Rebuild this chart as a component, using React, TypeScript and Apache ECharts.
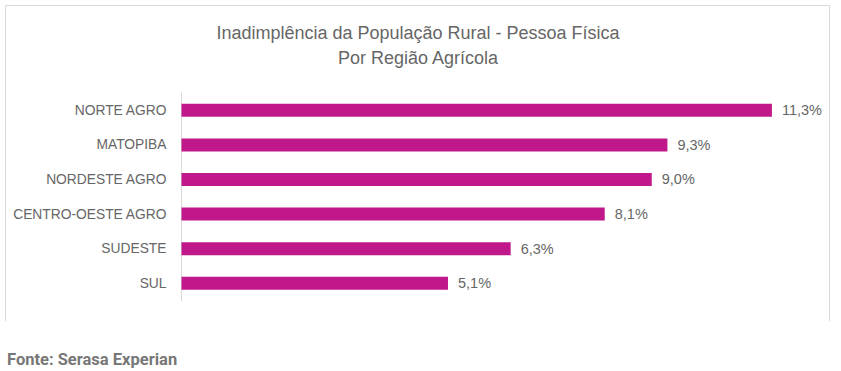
import React, { useEffect, useRef } from "react";
import * as echarts from "echarts";

const categories = ["NORTE AGRO", "MATOPIBA", "NORDESTE AGRO", "CENTRO-OESTE AGRO", "SUDESTE", "SUL"];
const values = [11.3, 9.3, 9.0, 8.1, 6.3, 5.1];
const titleLines = ["Inadimplência da População Rural - Pessoa Física", "Por Região Agrícola"];
const sourceText = "Fonte: Serasa Experian";

export default function App() {
  const ref = useRef<HTMLDivElement>(null);
  useEffect(() => {
    if (!ref.current) return;
    const chart = echarts.init(ref.current, undefined, { renderer: "svg" });
    const border = "#d9d9d9";
    chart.setOption({
      animation: false,
      backgroundColor: "#ffffff",
      grid: { left: 181.5, top: 93, width: 627, height: 207.5, containLabel: false },
      xAxis: {
        type: "value",
        min: 0,
        max: 12,
        show: false,
      },
      yAxis: {
        type: "category",
        data: categories,
        inverse: true,
        axisLine: { show: true, lineStyle: { color: border, width: 1 } },
        axisTick: { show: false },
        splitLine: { show: false },
        axisLabel: {
          margin: 15,
          color: "#666666",
          fontFamily: "Liberation Sans",
          fontSize: 13.8,
        },
      },
      series: [
        {
          type: "bar",
          data: values,
          barWidth: 13,
          itemStyle: { color: "#c0188a" },
          label: {
            show: true,
            position: "right",
            distance: 10,
            color: "#666666",
            fontFamily: "Liberation Sans",
            fontSize: 14.5,
            formatter: (p: any) => p.value.toFixed(1).replace(".", ",") + "%",
          },
        },
      ],
      graphic: [
        { type: "line", shape: { x1: 5.5, y1: 5.5, x2: 829.5, y2: 5.5 }, style: { stroke: border, lineWidth: 1 } },
        { type: "line", shape: { x1: 5.5, y1: 5.5, x2: 5.5, y2: 321 }, style: { stroke: border, lineWidth: 1 } },
        { type: "line", shape: { x1: 829.5, y1: 5.5, x2: 829.5, y2: 321 }, style: { stroke: border, lineWidth: 1 } },
        {
          type: "text",
          x: 418,
          y: 33,
          style: {
            text: titleLines[0],
            fill: "#666666",
            font: "18px 'Liberation Sans'",
            textAlign: "center",
            textVerticalAlign: "middle",
          },
        },
        {
          type: "text",
          x: 418,
          y: 58,
          style: {
            text: titleLines[1],
            fill: "#666666",
            font: "18px 'Liberation Sans'",
            textAlign: "center",
            textVerticalAlign: "middle",
          },
        },
        {
          type: "text",
          x: 7,
          y: 359,
          style: {
            text: sourceText,
            fill: "#777777",
            font: "bold 16.5px Roboto",
            textAlign: "left",
            textVerticalAlign: "middle",
          },
        },
      ],
    });
    return () => chart.dispose();
  }, []);
  return (
    <div
      ref={ref}
      style={{ position: "fixed", left: 0, top: 0, width: 841, height: 371 }}
    />
  );
}
